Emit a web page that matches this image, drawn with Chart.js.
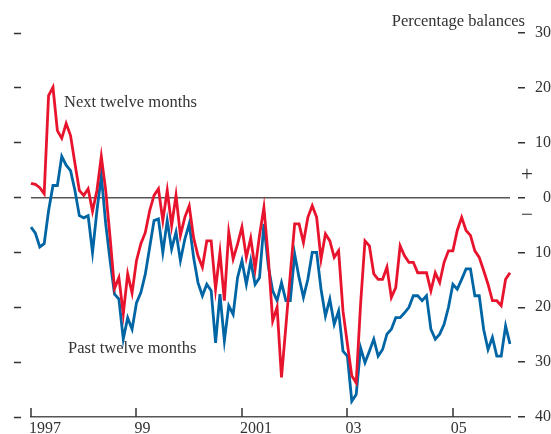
<!DOCTYPE html>
<html>
<head>
<meta charset="utf-8">
<script src="https://cdn.jsdelivr.net/npm/chart.js@4.4.0/dist/chart.umd.min.js"></script>
<style>
  html, body { margin: 0; padding: 0; background: #fff; }
</style>
</head>
<body>
<canvas id="chart" width="551" height="434"></canvas>
<script>
// Monthly categories, Jan 1997 to Feb 2006
const months = [];
for (let y = 1997; y <= 2006; y++) {
    for (let m = 1; m <= 12; m++) {
        if (months.length < 110) months.push(y + '-' + m);
    }
}

// x tick labels, one every two years (every 24 months)
const yearTicks = ['1997', '99', '2001', '03', '05'];
// y tick values (shown without sign)
const valueTicks = [30, 20, 10, 0, -10, -20, -30, -40];

// Next twelve months (red)
const nextTwelve = [
    2.6, 2.4, 1.8, 0.7, 18.6, 20.1, 12.2, 10.8, 13.5, 11.3, 6.2, 1.3,
    0.4, 1.6, -2.5, 1.3, 7.5, 1.3, -7.3, -16.6, -14.6, -21.2, -13.9, -17.4,
    -11.5, -8.4, -6.4, -2.4, 0.4, 1.6, -4.2, 1.3, -5.1, 0.4, -6.9, -3.6,
    -1.5, -7.3, -10.6, -12.7, -7.9, -7.9, -16.7, -10, -18.8, -6.3, -11.2, -8.5,
    -5.4, -10.9, -7.4, -13, -6.9, -1.8, -11, -22.5, -20, -32.8, -23.5, -14,
    -4.8, -4.8, -8.2, -3.6, -1.5, -3.6, -11.2, -6.6, -7.9, -10.9, -9.7, -20.7,
    -26.7, -32.5, -33.8, -19.4, -7.9, -8.8, -13.9, -14.9, -14.9, -12.7, -18.2, -16.4,
    -8.8, -10.6, -11.8, -11.8, -13.7, -13.7, -13.7, -17, -13.7, -15.5, -11.8, -9.7,
    -9.7, -6.0, -3.6, -6.0, -6.9, -9.7, -10.9, -13.3, -15.8, -18.8, -18.8, -19.7,
    -14.9, -13.7
];

// Past twelve months (blue)
const pastTwelve = [
    -5.4, -6.5, -9.0, -8.4, -2.4, 2.2, 2.2, 7.5, 5.9, 4.9, 1.3, -3.3,
    -3.7, -3.3, -10, -2.4, 4.0, -4.8, -11.5, -17.6, -18.5, -25.8, -21.9, -24,
    -19.2, -17.3, -14, -9.1, -4.2, -3.9, -10, -4.2, -9.4, -6.3, -11.5, -7.6,
    -4.8, -10.9, -15.5, -17.9, -15.8, -17, -26.5, -17.6, -26.1, -19.7, -21.3, -14.6,
    -11.5, -15.8, -11.5, -15.8, -14.6, -4.8, -12.5, -17, -18.8, -15.5, -18.8, -18.8,
    -10.3, -14.6, -18.2, -14.9, -10, -10, -16.7, -21.6, -18.5, -23.1, -20.7, -28,
    -28.9, -37.1, -35.9, -27.4, -30.1, -28, -25.8, -28.9, -27.7, -24.9, -24, -21.9,
    -21.9, -21, -20, -17.9, -17.9, -18.8, -17.9, -24, -25.8, -24.9, -23.1, -20,
    -15.8, -16.7, -14.9, -13, -13, -17.9, -17.9, -24, -27.7, -25.5, -28.9, -28.9,
    -23.4, -26.7
];

const textColor = '#333333';
const serif = '"Liberation Serif", "Times New Roman", serif';

// upward year ticks on the x axis, plus the loose text on the chart
const extras = {
    id: 'extras',
    afterDraw(chart) {
        const { ctx, chartArea, scales: { x } } = chart;
        ctx.save();
        ctx.strokeStyle = textColor;
        ctx.lineWidth = 1.5;
        yearTicks.forEach((_, k) => {
            const px = Math.round(x.getPixelForValue(k * 24));
            ctx.beginPath();
            ctx.moveTo(px, chartArea.bottom);
            ctx.lineTo(px, chartArea.bottom - 9);
            ctx.stroke();
        });

        ctx.fillStyle = textColor;
        ctx.font = '16.5px ' + serif;
        ctx.textBaseline = 'alphabetic';
        ctx.textAlign = 'right';
        ctx.fillText('Percentage balances', 525, 26);
        ctx.textAlign = 'left';
        ctx.fillText('Next twelve months', 64, 107);
        ctx.fillText('Past twelve months', 68, 353);

        ctx.font = '21px ' + serif;
        ctx.textAlign = 'center';
        ctx.textBaseline = 'middle';
        ctx.fillText('+', 527, 175);
        ctx.fillText('\u2212', 527, 215);
        ctx.restore();
    }
};

const setTicks = (scale) => { scale.ticks = valueTicks.map(v => ({ value: v })); };

new Chart(document.getElementById('chart'), {
    type: 'line',
    plugins: [extras],
    data: {
        labels: months,
        datasets: [
            {
                label: 'Next twelve months',
                data: nextTwelve,
                borderColor: '#e8142d',
                borderWidth: 2.8,
                pointRadius: 0,
                yAxisID: 'y'
            },
            {
                label: 'Past twelve months',
                data: pastTwelve,
                borderColor: '#0065a4',
                borderWidth: 2.8,
                pointRadius: 0,
                yAxisID: 'y'
            }
        ]
    },
    options: {
        responsive: false,
        animation: false,
        layout: { padding: { top: 33, left: 0, right: 0, bottom: 0 } },
        plugins: {
            legend: { display: false },
            tooltip: { enabled: false }
        },
        scales: {
            x: {
                offset: false,
                grid: { display: false },
                border: { display: true, color: '#555555', width: 1.5 },
                ticks: {
                    autoSkip: false,
                    maxRotation: 0,
                    align: 'start',
                    labelOffset: -2,
                    padding: -6,
                    color: textColor,
                    font: { family: serif, size: 16 },
                    callback: (v, i) => (i % 24 === 0 ? yearTicks[i / 24] : '')
                },
                afterFit: (s) => { s.height = 17; }
            },
            yl: {
                position: 'left',
                min: -40,
                max: 30,
                afterBuildTicks: setTicks,
                ticks: { display: false },
                border: { display: false },
                grid: {
                    drawOnChartArea: false,
                    drawTicks: true,
                    tickLength: 17,
                    tickColor: textColor,
                    tickWidth: 1.5,
                    tickBorderDash: [7, 30]
                },
                afterFit: (s) => { s.width = 31; }
            },
            y: {
                position: 'right',
                min: -40,
                max: 30,
                afterBuildTicks: setTicks,
                border: { display: false },
                grid: {
                    drawOnChartArea: true,
                    color: (c) => (c.tick && c.tick.value === 0 ? '#555555' : 'rgba(0,0,0,0)'),
                    lineWidth: 1.5,
                    drawTicks: true,
                    tickLength: 15,
                    tickColor: textColor,
                    tickWidth: 1.5,
                    tickBorderDash: [7, 8],
                    tickBorderDashOffset: 7
                },
                ticks: {
                    crossAlign: 'far',
                    padding: 4,
                    color: textColor,
                    font: { family: serif, size: 16 },
                    callback: (v) => Math.abs(v)
                },
                afterFit: (s) => { s.width = 41; }
            }
        }
    }
});
</script>
</body>
</html>
